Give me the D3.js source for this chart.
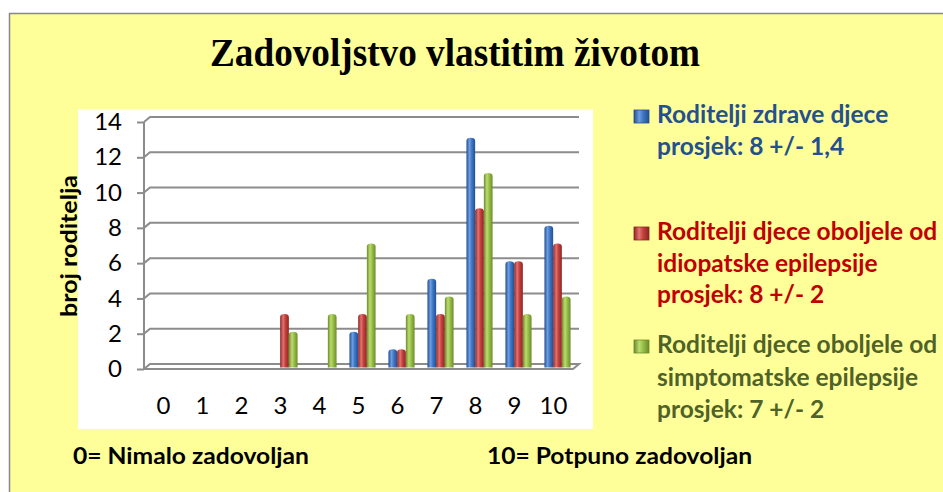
<!DOCTYPE html>
<html>
<head>
<meta charset="utf-8">
<script src="https://cdn.jsdelivr.net/npm/d3@7"></script>
<style>
  body { margin: 0; background: #fff; }
  svg { display: block; }
</style>
</head>
<body>
<div id="chart"></div>
<script>
const categories = ["0", "1", "2", "3", "4", "5", "6", "7", "8", "9", "10"];
const zdrave      = [0, 0, 0, 0, 0, 2, 1, 5, 13, 6, 8];
const idiopatske  = [0, 0, 0, 3, 0, 3, 1, 3, 9, 6, 7];
const simptomatske = [0, 0, 0, 2, 3, 7, 3, 4, 11, 3, 4];
const yTicks = [0, 2, 4, 6, 8, 10, 12, 14];

const series = [
    { name: "zdrave", values: zdrave, dark: "#234f91", mid: "#3f78c8", light: "#6d9de0",
      text: "#24508e", lines: ["Roditelji zdrave djece", "prosjek: 8 +/- 1,4"] },
    { name: "idiopatske", values: idiopatske, dark: "#8e2523", mid: "#c4413e", light: "#e27470",
      text: "#c00000", lines: ["Roditelji djece oboljele od", "idiopatske epilepsije", "prosjek: 8 +/- 2"] },
    { name: "simptomatske", values: simptomatske, dark: "#6c8a2c", mid: "#98c047", light: "#bcdc70",
      text: "#4f6228", lines: ["Roditelji djece oboljele od", "simptomatske epilepsije", "prosjek: 7 +/- 2"] }
];

const width = 943, height = 492;
const svg = d3.select("#chart").append("svg")
    .attr("width", width)
    .attr("height", height);

const defs = svg.append("defs");
series.forEach(s => {
    const g = defs.append("linearGradient")
        .attr("id", "grad-" + s.name)
        .attr("x1", "0%").attr("x2", "100%").attr("y1", "0%").attr("y2", "0%");
    g.append("stop").attr("offset", "0%").attr("stop-color", s.dark);
    g.append("stop").attr("offset", "35%").attr("stop-color", s.light);
    g.append("stop").attr("offset", "60%").attr("stop-color", s.mid);
    g.append("stop").attr("offset", "100%").attr("stop-color", s.dark);
});

// yellow frame
svg.append("rect")
    .attr("x", 9.5).attr("y", 13.5)
    .attr("width", width + 20).attr("height", height + 20)
    .attr("fill", "#ffff99")
    .attr("stroke", "#888").attr("stroke-width", 1.5);

// white plot area
svg.append("rect")
    .attr("x", 78).attr("y", 109)
    .attr("width", 515).attr("height", 320)
    .attr("fill", "#fff");

svg.append("text")
    .attr("x", 210).attr("y", 66)
    .attr("font-family", "Liberation Serif, Times New Roman, serif")
    .attr("font-weight", "bold")
    .attr("font-size", 39)
    .attr("textLength", 490)
    .attr("lengthAdjust", "spacingAndGlyphs")
    .text("Zadovoljstvo vlastitim životom");

// 3D depth offset
const dx = 6, dy = 5;
const yBack = d3.scaleLinear().domain([0, 14]).range([364, 117]);
const yFront = d3.scaleLinear().domain([0, 14]).range([364 + dy, 117 + dy]);
const x = d3.scaleBand().domain(categories).range([144, 573]).paddingInner(0.33).paddingOuter(0.165);
const xs = d3.scaleBand().domain(series.map(s => s.name)).range([0, x.bandwidth()]);

// gridlines on back wall
const grid = svg.append("g");
yTicks.forEach(t => {
    const pts = t === 0
        ? [[144, yFront(t)], [144 + dx, yBack(t)], [579, yBack(t)], [579 - dx, yFront(t)], [144, yFront(t)]]
        : [[144, yFront(t)], [144 + dx, yBack(t)], [579, yBack(t)]];
    grid.append("path")
        .attr("d", d3.line()(pts))
        .attr("fill", "none")
        .attr("stroke", "#8c8c8c")
        .attr("stroke-width", 2);
});

// left axis
const yAxis = svg.append("g")
    .attr("transform", "translate(144,0)")
    .call(d3.axisLeft(yFront).tickValues(yTicks).tickSize(7).tickPadding(15));
yAxis.select(".domain").attr("stroke", "#8c8c8c").attr("stroke-width", 2)
    .attr("d", `M0,${yFront(14)}V${yFront(0)}`);
yAxis.selectAll(".tick line").attr("stroke", "#8c8c8c").attr("stroke-width", 2);
yAxis.selectAll(".tick text")
    .attr("font-family", "Lato, Carlito, Calibri, sans-serif")
    .attr("font-size", 24)
    .attr("fill", "#000");

// category labels
svg.append("g").selectAll("text")
    .data(categories)
    .join("text")
    .attr("x", d => x(d) + x.bandwidth() / 2)
    .attr("y", 414)
    .attr("text-anchor", "middle")
    .attr("font-family", "Lato, Carlito, Calibri, sans-serif")
    .attr("font-size", 24)
    .text(d => d);

// bars (cylinders)
const barBase = yBack(0) + 3.5;
function cylinder(x0, w, top) {
    const rx = w / 2, ry = 3;
    return `M${x0},${barBase}V${top + ry}A${rx},${ry} 0 0 1 ${x0 + w},${top + ry}V${barBase}Z`;
}
series.forEach(s => {
    svg.append("g").selectAll("path")
        .data(s.values.map((v, i) => ({ cat: categories[i], v })).filter(d => d.v > 0))
        .join("path")
        .attr("d", d => cylinder(x(d.cat) + xs(s.name) + 4, xs.bandwidth(), yBack(d.v) + 3))
        .attr("fill", "url(#grad-" + s.name + ")");
});

// y axis title
svg.append("text")
    .attr("transform", "translate(77,246) rotate(-90)")
    .attr("text-anchor", "middle")
    .attr("font-family", "Lato, Carlito, Calibri, sans-serif")
    .attr("font-weight", "bold")
    .attr("font-size", 22)
    .attr("textLength", 142)
    .attr("lengthAdjust", "spacingAndGlyphs")
    .text("broj roditelja");

// legend
const legendY = [123, 240, 353];
const lineGap = [32, 31.5, 32.5];
series.forEach((s, i) => {
    const g = svg.append("g");
    g.append("rect")
        .attr("x", 634).attr("y", legendY[i] - 13)
        .attr("width", 15).attr("height", 13)
        .attr("fill", "url(#grad-" + s.name + ")")
        .attr("stroke", s.dark).attr("stroke-width", 0.8);
    s.lines.forEach((ln, j) => {
        g.append("text")
            .attr("x", 657).attr("y", legendY[i] + j * lineGap[i])
            .attr("font-family", "Lato, Carlito, Calibri, sans-serif")
            .attr("font-weight", "bold")
            .attr("font-size", 24.5)
            .attr("fill", s.text)
            .text(ln);
    });
});

// scale notes
const notes = [{ x: 73, w: 236, t: "0= Nimalo zadovoljan" }, { x: 487, w: 265, t: "10= Potpuno zadovoljan" }];
notes.forEach(n => {
    svg.append("text")
        .attr("x", n.x).attr("y", 464)
        .attr("font-family", "Lato, Carlito, Calibri, sans-serif")
        .attr("font-weight", "bold")
        .attr("font-size", 23)
        .attr("textLength", n.w)
        .attr("lengthAdjust", "spacingAndGlyphs")
        .text(n.t);
});
</script>
</body>
</html>
